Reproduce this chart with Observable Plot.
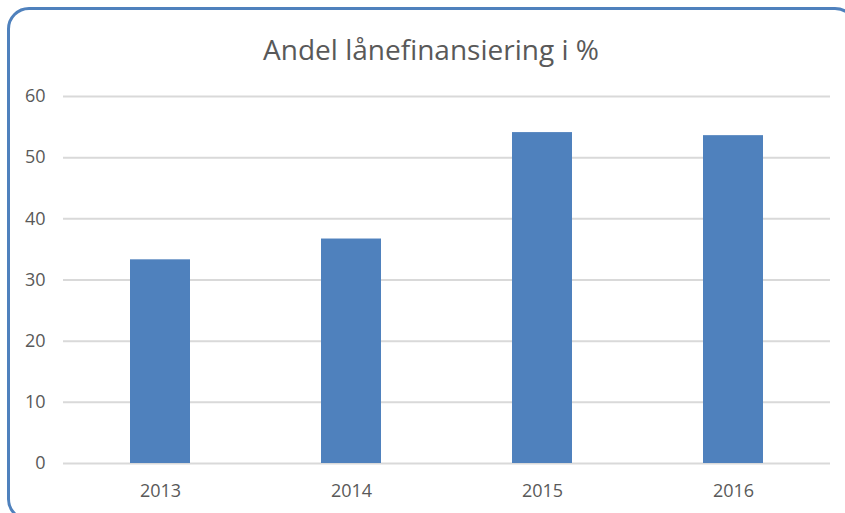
<!DOCTYPE html>
<html>
<head>
<meta charset="utf-8">
<script src="https://cdn.jsdelivr.net/npm/d3@7"></script>
<script src="https://cdn.jsdelivr.net/npm/@observablehq/plot@0.6"></script>
<style>
  html, body { margin: 0; padding: 0; background: #fff; }
  #wrap { position: relative; width: 845px; height: 513px; overflow: hidden; font-family: "Open Sans", sans-serif; }
  #frame { position: absolute; left: 7px; top: 7px; width: 850px; height: 514px; border: 3px solid #4f81bd; border-radius: 22px; box-sizing: border-box; }
  #title { position: absolute; left: 0; top: 35px; width: 862px; text-align: center; font-size: 28px; line-height: 28px; color: #595959; white-space: nowrap; }
  #chart { position: absolute; left: 0; top: 0; }
</style>
</head>
<body>
<div id="wrap">
  <div id="frame"></div>
  <div id="chart"></div>
  <div id="title">Andel lånefinansiering i %</div>
</div>
<script>
const years = ["2013", "2014", "2015", "2016"];
const values = [33.3, 36.7, 54.1, 53.6];
const yTicks = [0, 10, 20, 30, 40, 50, 60];

const data = years.map((y, i) => ({year: y, value: values[i]}));

const chart = Plot.plot({
  width: 845,
  height: 513,
  marginTop: 96,
  marginBottom: 50,
  marginLeft: 63,
  marginRight: 15,
  style: {fontFamily: "Open Sans, sans-serif", fontSize: "18px", color: "#595959", background: "transparent"},
  x: {domain: years, paddingInner: 0.687, paddingOuter: 0.3435, label: null},
  y: {domain: [0, 60], ticks: yTicks, label: null},
  marks: [
    Plot.gridY(yTicks, {stroke: "#d9d9d9", strokeOpacity: 1, strokeWidth: 2}),
    Plot.barY(data, {x: "year", y: "value", fill: "#4f81bd"}),
    Plot.axisY(yTicks, {tickSize: 0, tickPadding: 18, fill: "#595959", fontSize: 18}),
    Plot.axisX({tickSize: 0, tickPadding: 21, fill: "#595959", fontSize: 18})
  ]
});
document.getElementById("chart").appendChild(chart);
</script>
</body>
</html>
